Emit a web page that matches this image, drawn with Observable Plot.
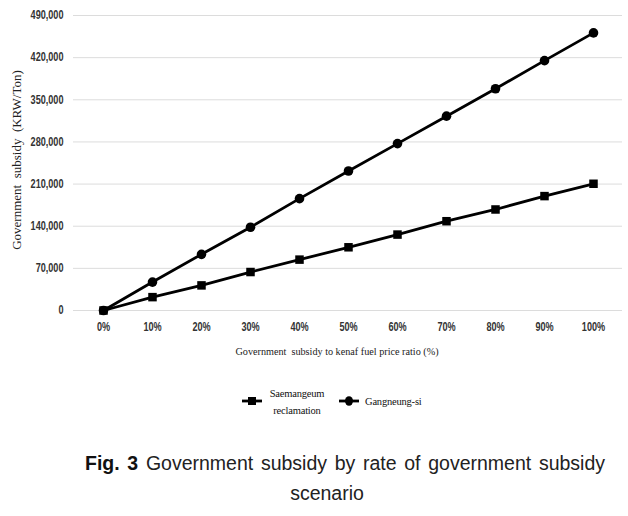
<!DOCTYPE html>
<html>
<head>
<meta charset="utf-8">
<script src="https://cdn.jsdelivr.net/npm/d3@7"></script>
<script src="https://cdn.jsdelivr.net/npm/@observablehq/plot@0.6"></script>
<style>
  html, body { margin: 0; padding: 0; background: #fff; }
  #wrap { position: relative; width: 628px; height: 516px; overflow: hidden; }
  #chart { position: absolute; left: 0; top: 0; }
  .legend { position: absolute; left: 0; top: 0; font-family: "Liberation Serif", "Times New Roman", serif; font-size: 10.5px; letter-spacing: -0.2px; color: #111; }
  .legend svg { position: absolute; }
  .caption { position: absolute; left: 85px; top: 448px; width: 520px; font-family: "Liberation Sans", Arial, sans-serif; font-size: 19.5px; color: #222; text-align: justify; text-align-last: center; line-height: 30px; }
  .caption b { font-weight: bold; color: #111; }
  .caption span.last { position: relative; left: -18px; }
</style>
</head>
<body>
<div id="wrap">
  <div id="chart"></div>
  <div class="legend" id="legend"></div>
  <div class="caption"><b>Fig. 3</b> Government subsidy by rate of government subsidy <span class="last">scenario</span></div>
</div>
<script>
const categories = ["0%", "10%", "20%", "30%", "40%", "50%", "60%", "70%", "80%", "90%", "100%"];
const seriesNames = ["Saemangeum reclamation", "Gangneung-si"];
const saemangeum = [0, 22200, 41700, 63900, 84500, 105000, 126100, 148300, 167800, 190000, 210500];
const gangneung = [0, 47200, 93300, 138300, 185800, 231700, 277200, 322800, 368300, 415000, 461100];
const yTicks = [0, 70000, 140000, 210000, 280000, 350000, 420000, 490000];
const yTitle = "Government  subsidy  (KRW/Ton)";
const xTitle = "Government  subsidy to kenaf fuel price ratio (%)";

const data = [];
categories.forEach((c, i) => {
  data.push({pct: c, value: saemangeum[i], series: seriesNames[0]});
  data.push({pct: c, value: gangneung[i], series: seriesNames[1]});
});

const tickFont = {fontFamily: "'Liberation Sans', Arial, sans-serif", fontSize: 12, fontWeight: "bold", fill: "#333"};

const chart = Plot.plot({
  width: 628,
  height: 372,
  marginLeft: 73,
  marginRight: 6,
  marginTop: 15,
  marginBottom: 62,
  x: {type: "point", domain: categories, padding: 0.5, label: null},
  y: {domain: [0, 490000], label: null},
  symbol: {domain: seriesNames, range: ["square", "circle"]},
  style: {background: "#fff", overflow: "visible"},
  marks: [
    Plot.gridY(yTicks, {stroke: "#dcdcdc", strokeOpacity: 1, strokeWidth: 1}),
    Plot.axisY(yTicks, {tickSize: 0, tickPadding: 10, tickFormat: d3.format(","), label: null, ...tickFont}),
    Plot.axisX({tickSize: 0, tickPadding: 12, label: null, ...tickFont}),
    Plot.line(data, {x: "pct", y: "value", z: "series", stroke: "#000", strokeWidth: 2.8}),
    Plot.dot(data, {x: "pct", y: "value", symbol: "series", fill: "#000", stroke: "none", r: 4.8}),
    Plot.text([yTitle], {frameAnchor: "left", textAnchor: "middle", dx: -57, dy: -3, rotate: -90, fontFamily: "'Liberation Serif', serif", fontSize: 13, fill: "#222", letterSpacing: "0.3px"}),
    Plot.text([xTitle], {frameAnchor: "bottom", dx: -11, dy: 44, fontFamily: "'Liberation Serif', serif", fontSize: 10.2, fill: "#222", letterSpacing: "-0.45px"})
  ]
});
// narrow the tick labels horizontally, as in the reference's condensed face
d3.select(chart).selectAll('g[aria-label="y-axis tick label"] text, g[aria-label="x-axis tick label"] text')
  .attr("transform", function() { return (this.getAttribute("transform") || "") + " scale(0.76,1)"; });
document.getElementById("chart").appendChild(chart);

// Legend
const legend = document.getElementById("legend");
const legendItems = [
  {symbol: "square", lines: ["Saemangeum", "reclamation"], sx: 242, tx: 297},
  {symbol: "circle", lines: ["Gangneung-si"], sx: 339, tx: 365}
];
legendItems.forEach(item => {
  const svg = d3.create("svg").attr("width", 22).attr("height", 12)
    .style("left", item.sx + "px").style("top", "395px");
  svg.append("line").attr("x1", 0).attr("x2", 20).attr("y1", 6).attr("y2", 6).attr("stroke", "#000").attr("stroke-width", 2.8);
  if (item.symbol === "square") svg.append("rect").attr("x", 6).attr("y", 2).attr("width", 8).attr("height", 8).attr("fill", "#000");
  else svg.append("ellipse").attr("cx", 10).attr("cy", 6).attr("rx", 4).attr("ry", 4.8).attr("fill", "#000");
  legend.appendChild(svg.node());
  const t = document.createElement("div");
  t.style.position = "absolute";
  if (item.lines.length > 1) {
    t.style.left = (item.tx - 40) + "px";
    t.style.width = "80px";
    t.style.textAlign = "center";
    t.style.top = "385px";
  } else {
    t.style.left = item.tx + "px";
    t.style.top = "393px";
  }
  t.style.lineHeight = "17px";
  t.style.whiteSpace = "nowrap";
  t.innerHTML = item.lines.join("<br>");
  legend.appendChild(t);
});
</script>
</body>
</html>
